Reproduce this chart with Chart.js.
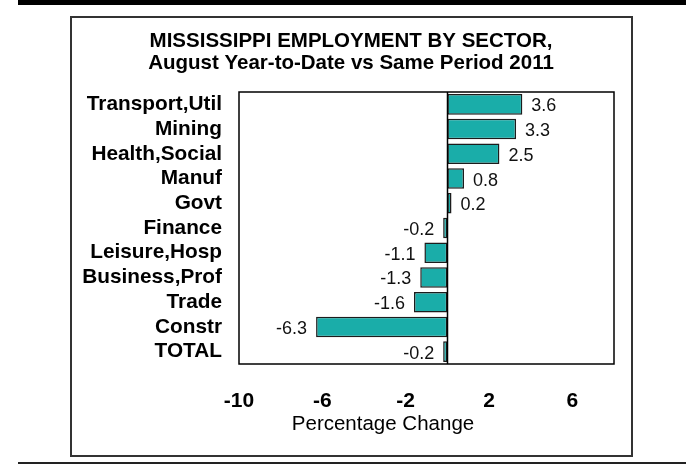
<!DOCTYPE html>
<html>
<head>
<meta charset="utf-8">
<script src="https://cdn.jsdelivr.net/npm/chart.js@4/dist/chart.umd.min.js"></script>
<style>
  html, body { margin: 0; padding: 0; background: #fff; }
  #wrap { width: 686px; height: 466px; position: relative; }
</style>
</head>
<body>
<div id="wrap"><canvas id="c" width="686" height="466"></canvas></div>
<script>
// Sector employment change, August YTD vs same period 2011
const sectors = ['Transport,Util', 'Mining', 'Health,Social', 'Manuf', 'Govt', 'Finance',
                 'Leisure,Hosp', 'Business,Prof', 'Trade', 'Constr', 'TOTAL'];
const pctChange = [3.6, 3.3, 2.5, 0.8, 0.2, -0.2, -1.1, -1.3, -1.6, -6.3, -0.2];
const xTicks = [-10, -6, -2, 2, 6];
const titleLines = ['MISSISSIPPI EMPLOYMENT BY SECTOR,', 'August Year-to-Date vs Same Period 2011'];
const axisTitle = 'Percentage Change';

const FONT = 'Liberation Sans, Arial, Helvetica, sans-serif';

// Page frame, heading, axis caption, plot border, zero line and value labels
const framePlugin = {
  id: 'frame',
  beforeDraw(chart) {
    const ctx = chart.ctx;
    ctx.save();
    ctx.fillStyle = '#fff';
    ctx.fillRect(0, 0, chart.width, chart.height);
    // heavy rule along the top, thin rule along the bottom
    ctx.fillStyle = '#000';
    ctx.fillRect(18, 0, chart.width - 18, 5);
    ctx.fillStyle = '#222';
    ctx.fillRect(18, 462, chart.width - 18, 2);
    // outer box
    ctx.strokeStyle = '#333';
    ctx.lineWidth = 2;
    ctx.strokeRect(71, 17, 561, 439);
    // heading
    ctx.fillStyle = '#000';
    ctx.font = 'bold 20.5px ' + FONT;
    ctx.textAlign = 'center';
    ctx.textBaseline = 'middle';
    ctx.fillText(titleLines[0], 351, 41);
    ctx.fillText(titleLines[1], 351, 63);
    // axis caption
    ctx.font = '20.5px ' + FONT;
    ctx.fillText(axisTitle, 383, 424);
    ctx.restore();
  },
  afterDatasetsDraw(chart) {
    const ctx = chart.ctx;
    const a = chart.chartArea;
    const xs = chart.scales.x;
    ctx.save();
    // plot border
    ctx.strokeStyle = '#000';
    ctx.lineWidth = 1.5;
    ctx.strokeRect(a.left, a.top, a.right - a.left, a.bottom - a.top);
    // zero line
    const x0 = Math.round(xs.getPixelForValue(0)) + 0.5;
    ctx.beginPath();
    ctx.moveTo(x0, a.top);
    ctx.lineTo(x0, a.bottom);
    ctx.stroke();
    // value labels
    ctx.fillStyle = '#111';
    ctx.font = '18px ' + FONT;
    ctx.textBaseline = 'middle';
    const meta = chart.getDatasetMeta(0);
    meta.data.forEach((bar, i) => {
      const v = chart.data.datasets[0].data[i];
      const txt = v.toFixed(1);
      if (v >= 0) {
        ctx.textAlign = 'left';
        ctx.fillText(txt, bar.x + 9, bar.y + 2);
      } else {
        ctx.textAlign = 'right';
        ctx.fillText(txt, bar.x - 9, bar.y + 2);
      }
    });
    ctx.restore();
  }
};

new Chart(document.getElementById('c'), {
  type: 'bar',
  data: {
    labels: sectors,
    datasets: [{
      data: pctChange,
      backgroundColor: '#1AADA9',
      borderColor: '#1c1c1c',
      borderWidth: 1.5,
      borderSkipped: false,
      categoryPercentage: 1,
      barPercentage: 0.83
    }]
  },
  options: {
    indexAxis: 'y',
    responsive: false,
    animation: false,
    devicePixelRatio: 1,
    layout: { padding: { top: 92, right: 72, left: 0, bottom: 0 } },
    plugins: { legend: { display: false }, tooltip: { enabled: false } },
    scales: {
      x: {
        min: -10,
        max: 8,
        grid: { display: false, drawTicks: false },
        border: { display: false },
        afterBuildTicks: s => { s.ticks = xTicks.map(v => ({ value: v })); },
        afterFit: s => { s.height = 102; },
        ticks: {
          padding: 25, color: '#000', autoSkip: false, maxRotation: 0,
          font: { family: FONT, size: 21, weight: 'bold' }
        }
      },
      y: {
        grid: { display: false, drawTicks: false },
        border: { display: false },
        afterFit: s => { s.width = 239; },
        ticks: {
          padding: 17, color: '#000', autoSkip: false,
          font: { family: FONT, size: 20.8, weight: 'bold' }
        }
      }
    }
  },
  plugins: [framePlugin]
});
</script>
</body>
</html>
